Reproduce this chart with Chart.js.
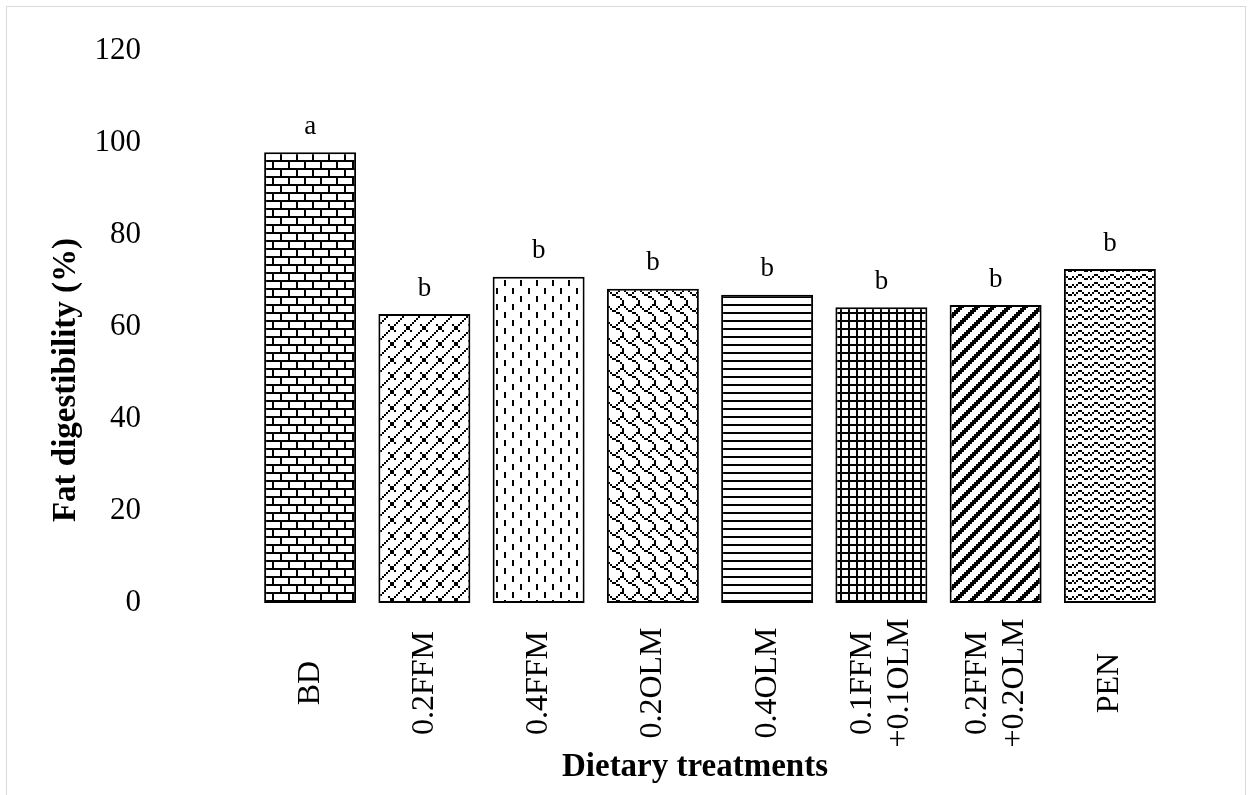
<!DOCTYPE html>
<html>
<head>
<meta charset="utf-8">
<script src="https://cdn.jsdelivr.net/npm/chart.js@4.4.1/dist/chart.umd.min.js"></script>
<style>
  html, body { margin: 0; padding: 0; background: #fff; }
  #frame { position: absolute; left: 6px; top: 6px; width: 1240px; height: 820px; border: 1px solid #d9d9d9; border-bottom: none; box-sizing: border-box; }
  #wrap { position: absolute; left: 0; top: 0; width: 1253px; height: 795px; overflow: hidden; }
</style>
</head>
<body>
<div id="wrap">
  <div id="frame"></div>
  <canvas id="chart" width="1253" height="795" style="position:absolute;left:0;top:0;"></canvas>
</div>
<script>
// Dietary treatments on the x axis (multi-line labels are arrays)
const treatments = [
  ['BD'], ['0.2FFM'], ['0.4FFM'], ['0.2OLM'], ['0.4OLM'],
  ['0.1FFM', '+0.1OLM'], ['0.2FFM', '+0.2OLM'], ['PEN']
];
// Fat digestibility (%) per treatment
const fatDigestibility = [98.0, 62.8, 70.9, 68.3, 67.0, 64.3, 64.8, 72.6];
// Significance letters shown above the bars
const significance = ['a', 'b', 'b', 'b', 'b', 'b', 'b', 'b'];
// Value axis ticks
const yTickMin = 0;
const yTickMax = 120;
const yTickStep = 20;

const SERIF = '"Liberation Serif", "Times New Roman", serif';

// 8x8 hatch bitmaps, drawn at 2x
const hatchBitmaps = [
  // horizontal brick
  ['########', '#.......', '#.......', '#.......', '########', '....#...', '....#...', '....#...'],
  // upward diagonal with crossing ticks
  ['.......#', '......#.', '..#..#..', '...##...', '...##...', '..#..#..', '.#......', '#.......'],
  // dashed vertical
  ['#.......', '#.......', '#.......', '........', '....#...', '....#...', '....#...', '........'],
  // shingle
  ['......##', '#....#..', '.#..#...', '..##....', '....##..', '......#.', '.......#', '.......#'],
  // light horizontal
  ['########', '........', '........', '........', '########', '........', '........', '........'],
  // small grid
  ['########', '#...#...', '#...#...', '#...#...', '########', '#...#...', '#...#...', '#...#...'],
  // wide upward diagonal
  ['###.....', '##.....#', '#.....##', '.....###', '....###.', '...###..', '..###...', '.###....'],
  // wave
  ['........', '...##...', '#.#..#..', '.#....##', '........', '...##...', '#.#..#..', '.#....##']
];

function makeHatch(ctx, rows, scale) {
  const h = rows.length, w = rows[0].length;
  const tile = document.createElement('canvas');
  tile.width = w * scale;
  tile.height = h * scale;
  const g = tile.getContext('2d');
  g.fillStyle = '#ffffff';
  g.fillRect(0, 0, tile.width, tile.height);
  g.fillStyle = '#000000';
  rows.forEach((row, y) => {
    for (let x = 0; x < row.length; x++) {
      if (row[x] === '#') g.fillRect(x * scale, y * scale, scale, scale);
    }
  });
  return ctx.createPattern(tile, 'repeat');
}

const canvas = document.getElementById('chart');
const ctx = canvas.getContext('2d');
const fills = hatchBitmaps.map(b => makeHatch(ctx, b, 2));

// Draws the letters, centred rotated category labels and axis titles
const annotations = {
  id: 'annotations',
  afterDraw(chart) {
    const c = chart.ctx;
    const meta = chart.getDatasetMeta(0);
    const xScale = chart.scales.x;
    c.save();
    c.fillStyle = '#000';

    // significance letters
    c.font = '27px ' + SERIF;
    c.textAlign = 'center';
    c.textBaseline = 'bottom';
    meta.data.forEach((bar, i) => {
      c.fillText(significance[i], bar.x, bar.y - 12);
    });

    // rotated category labels, centred on a common line
    c.font = '32px ' + SERIF;
    const lineH = 37;
    const labelCenterY = 683;
    treatments.forEach((lines, i) => {
      const x = xScale.getPixelForValue(i);
      c.save();
      c.translate(x, labelCenterY);
      c.rotate(-Math.PI / 2);
      c.textAlign = 'center';
      c.textBaseline = 'middle';
      lines.forEach((t, k) => {
        c.fillText(t, 0, (k - (lines.length - 1) / 2) * lineH);
      });
      c.restore();
    });

    // axis titles
    c.font = 'bold 33px ' + SERIF;
    c.textAlign = 'center';
    c.textBaseline = 'middle';
    c.fillText('Dietary treatments', 695, 767);
    c.save();
    c.translate(66, 380);
    c.rotate(-Math.PI / 2);
    c.fillText('Fat digestibility (%)', 0, 0);
    c.restore();

    c.restore();
  }
};

new Chart(ctx, {
  type: 'bar',
  data: {
    labels: treatments,
    datasets: [{
      data: fatDigestibility,
      backgroundColor: fills,
      borderColor: '#000',
      borderWidth: 2,
      borderSkipped: false,
      categoryPercentage: 1.0,
      barPercentage: 0.805
    }]
  },
  options: {
    responsive: false,
    animation: false,
    devicePixelRatio: 1,
    layout: { padding: { left: 0, right: 86, top: 51, bottom: 0 } },
    plugins: { legend: { display: false }, tooltip: { enabled: false } },
    scales: {
      x: {
        grid: { display: false, drawTicks: false },
        border: { display: false },
        ticks: { display: false },
        afterFit(scale) { scale.height = 192; }
      },
      y: {
        min: yTickMin,
        max: yTickMax,
        grid: { display: false, drawTicks: false },
        border: { display: false },
        ticks: {
          stepSize: yTickStep,
          color: '#000',
          padding: 112,
          font: { family: SERIF, size: 31 }
        },
        afterFit(scale) {
          scale.width = 253;
          scale.paddingTop = 0;
          scale.paddingBottom = 0;
        }
      }
    }
  },
  plugins: [annotations]
});
</script>
</body>
</html>
